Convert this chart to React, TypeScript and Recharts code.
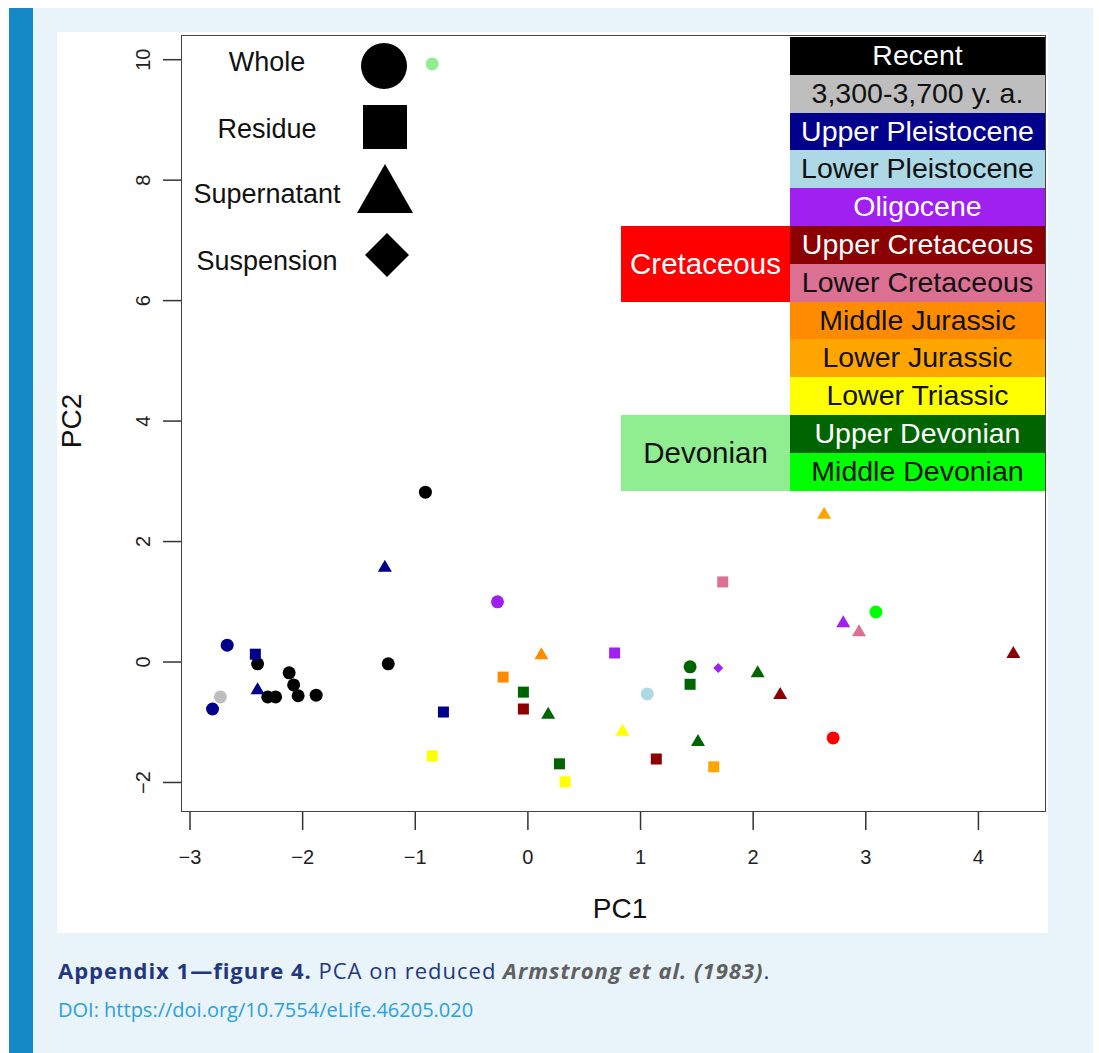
import React from "react";
import { ScatterChart, Scatter, XAxis, YAxis } from "recharts";

// Period legend (right column, top to bottom)
const PERIODS = [
  "Recent",
  "3,300-3,700 y. a.",
  "Upper Pleistocene",
  "Lower Pleistocene",
  "Oligocene",
  "Upper Cretaceous",
  "Lower Cretaceous",
  "Middle Jurassic",
  "Lower Jurassic",
  "Lower Triassic",
  "Upper Devonian",
  "Middle Devonian",
];
const PERIOD_COLORS = [
  "#000000", "#BEBEBE", "#00008B", "#ADD8E6", "#A020F0", "#8B0000",
  "#DB7093", "#FF8C00", "#FFA500", "#FFFF00", "#006400", "#00FF00",
];
const PERIOD_TEXT = [
  "#FFFFFF", "#111111", "#FFFFFF", "#111111", "#FFFFFF", "#FFFFFF",
  "#111111", "#111111", "#111111", "#111111", "#FFFFFF", "#111111",
];

// Grouping labels on the left of the period column
const GROUPS = ["Cretaceous", "Devonian"];
const GROUP_COLORS = ["#FF0000", "#90EE90"];
const GROUP_TEXT = ["#FFFFFF", "#111111"];
const GROUP_FIRST_ROW = [5, 10];

const FRACTIONS = ["Whole", "Residue", "Supernatant", "Suspension"];

// PCA scores
const PC1 = [
  -0.85, -0.91, -1.27, -2.67, -2.42, -2.40, -2.12, -2.08, -2.40, -2.73,
  -2.80, -2.31, -2.24, -2.04, -1.88, -1.24, -0.75, -0.85, -0.27, 1.73,
  0.12, 0.77, -0.22, 1.44, 1.69, -0.04, 1.44, 1.06, -0.04, 0.18,
  0.84, 1.51, 1.14, 0.28, 1.65, 0.33, 2.63, 3.09, 2.80, 2.94,
  4.31, 2.04, 2.24, 2.71,
];
const PC2 = [
  9.93, 2.82, 1.58, 0.28, 0.13, -0.03, -0.18, -0.38, -0.45, -0.58,
  -0.78, -0.58, -0.58, -0.56, -0.55, -0.03, -0.83, -1.56, 1.00, 1.33,
  0.13, 0.15, -0.25, -0.08, -0.10, -0.50, -0.37, -0.53, -0.78, -0.86,
  -1.14, -1.31, -1.61, -1.69, -1.74, -1.99, 2.46, 0.83, 0.66, 0.51,
  0.15, -0.17, -0.53, -1.26,
];
const POINT_PERIOD = [
  "Devonian", "Recent", "Upper Pleistocene", "Upper Pleistocene", "Upper Pleistocene",
  "Recent", "Recent", "Recent", "Upper Pleistocene", "3,300-3,700 y. a.",
  "Upper Pleistocene", "Recent", "Recent", "Recent", "Recent",
  "Recent", "Upper Pleistocene", "Lower Triassic", "Oligocene", "Lower Cretaceous",
  "Middle Jurassic", "Oligocene", "Middle Jurassic", "Upper Devonian", "Oligocene",
  "Upper Devonian", "Upper Devonian", "Lower Pleistocene", "Upper Cretaceous", "Upper Devonian",
  "Lower Triassic", "Upper Devonian", "Upper Cretaceous", "Upper Devonian", "Lower Jurassic",
  "Lower Triassic", "Lower Jurassic", "Middle Devonian", "Oligocene", "Lower Cretaceous",
  "Upper Cretaceous", "Upper Devonian", "Upper Cretaceous", "Cretaceous",
];
const POINT_FRACTION = [
  "Whole", "Whole", "Supernatant", "Whole", "Residue",
  "Whole", "Whole", "Whole", "Supernatant", "Whole",
  "Whole", "Whole", "Whole", "Whole", "Whole",
  "Whole", "Residue", "Residue", "Whole", "Residue",
  "Supernatant", "Residue", "Residue", "Whole", "Suspension",
  "Residue", "Residue", "Whole", "Residue", "Supernatant",
  "Supernatant", "Supernatant", "Residue", "Residue", "Residue",
  "Residue", "Supernatant", "Whole", "Supernatant", "Supernatant",
  "Supernatant", "Supernatant", "Supernatant", "Whole",
];

const X_TICKS = [-3, -2, -1, 0, 1, 2, 3, 4];
const Y_TICKS = [-2, 0, 2, 4, 6, 8, 10];

const colorOf = (period: string) => {
  const i = PERIODS.indexOf(period);
  if (i >= 0) return PERIOD_COLORS[i];
  return GROUP_COLORS[GROUPS.indexOf(period)];
};

const points = PC1.map((x, i) => ({
  x,
  y: PC2[i],
  period: POINT_PERIOD[i],
  fraction: POINT_FRACTION[i],
}));

const FONT = "'Liberation Sans', Arial, Helvetica, sans-serif";
const CAPTION_FONT = "'Open Sans', Lato, sans-serif";
const minus = (v: number) => String(v).replace("-", "\u2212");

function Marker(props: any) {
  const { cx, cy, payload } = props;
  if (cx == null || cy == null) return null;
  const fill = colorOf(payload.period);
  switch (payload.fraction) {
    case "Residue":
      return <rect x={cx - 5.5} y={cy - 5.5} width={11} height={11} fill={fill} />;
    case "Supernatant":
      return <polygon points={`${cx},${cy - 7} ${cx - 7},${cy + 5} ${cx + 7},${cy + 5}`} fill={fill} />;
    case "Suspension":
      return <polygon points={`${cx},${cy - 5} ${cx + 5},${cy} ${cx},${cy + 5} ${cx - 5},${cy}`} fill={fill} />;
    default:
      return <circle cx={cx} cy={cy} r={6.5} fill={fill} />;
  }
}

function XTick(props: any) {
  const { x, y, payload } = props;
  return (
    <text x={x} y={y + 32} textAnchor="middle" fontSize={20} fontFamily={FONT} fill="#222">
      {minus(payload.value)}
    </text>
  );
}

function YTick(props: any) {
  const { x, y, payload } = props;
  return (
    <text
      transform={`translate(${x - 11},${y}) rotate(-90)`}
      textAnchor="middle"
      fontSize={20}
      fontFamily={FONT}
      fill="#222"
    >
      {minus(payload.value)}
    </text>
  );
}

function ShapeKey() {
  return (
    <svg width={440} height={300} style={{ position: "absolute", left: 0, top: 0 }}>
      <g fontFamily={FONT} fontSize={27} fill="#111" textAnchor="middle">
        <text x={267} y={71}>{FRACTIONS[0]}</text>
        <text x={267} y={138}>{FRACTIONS[1]}</text>
        <text x={267} y={203}>{FRACTIONS[2]}</text>
        <text x={267} y={270}>{FRACTIONS[3]}</text>
      </g>
      <circle cx={384} cy={66} r={23} fill="#000" />
      <rect x={363} y={105} width={44} height={44} fill="#000" />
      <polygon points="385,164 357,213 413,213" fill="#000" />
      <polygon points="387,233 409,255 387,277 365,255" fill="#000" />
    </svg>
  );
}

function PeriodKey() {
  const top = 37;
  const rowH = 37.8;
  return (
    <>
      {PERIODS.map((p, i) => (
        <div
          key={p}
          style={{
            position: "absolute", left: 790, top: top + i * rowH, width: 255, height: rowH,
            background: PERIOD_COLORS[i], color: PERIOD_TEXT[i],
            fontFamily: FONT, fontSize: 28.5, lineHeight: `${rowH}px`, textAlign: "center",
            whiteSpace: "nowrap",
          }}
        >
          {p}
        </div>
      ))}
      {GROUPS.map((g, i) => (
        <div
          key={g}
          style={{
            position: "absolute", left: 621, top: top + GROUP_FIRST_ROW[i] * rowH, width: 169, height: 2 * rowH,
            background: GROUP_COLORS[i], color: GROUP_TEXT[i],
            fontFamily: FONT, fontSize: 29.5, lineHeight: `${2 * rowH}px`, textAlign: "center",
            whiteSpace: "nowrap",
          }}
        >
          {g}
        </div>
      ))}
    </>
  );
}

export default function App() {
  return (
    <div style={{ position: "absolute", left: 0, top: 0, width: 1099, height: 1053, background: "#fff", overflow: "hidden" }}>
      {/* page frame */}
      <div style={{ position: "absolute", left: 9, top: 8, width: 1084, height: 1045, background: "#E8F3FA" }} />
      <div style={{ position: "absolute", left: 9, top: 8, width: 24, height: 1045, background: "#1589C5" }} />
      <div style={{ position: "absolute", left: 57, top: 32, width: 991, height: 901, background: "#fff" }} />

      <div style={{ position: "absolute", left: 57, top: 32 }}>
        <ScatterChart width={991} height={901} margin={{ top: 3, right: 2, bottom: 81, left: 64 }}>
          <XAxis
            type="number"
            dataKey="x"
            domain={[-3.08, 4.6]}
            ticks={X_TICKS}
            allowDataOverflow
            axisLine={false}
            tickSize={18}
            tickLine={{ stroke: "#333", strokeWidth: 1.5 }}
            tick={<XTick />}
            height={40}
          />
          <YAxis
            type="number"
            dataKey="y"
            domain={[-2.49, 10.41]}
            ticks={Y_TICKS}
            allowDataOverflow
            axisLine={false}
            tickSize={18}
            tickLine={{ stroke: "#333", strokeWidth: 1.5 }}
            tick={<YTick />}
            width={60}
          />
          {FRACTIONS.map((f) => (
            <Scatter
              key={f}
              name={f}
              data={points.filter((p) => p.fraction === f)}
              shape={(p: any) => <Marker {...p} />}
              isAnimationActive={false}
            />
          ))}
        </ScatterChart>
      </div>

      {/* plot box */}
      <div style={{ position: "absolute", left: 181, top: 35, width: 865, height: 777, border: "1.5px solid #444", boxSizing: "border-box", pointerEvents: "none" }} />

      <ShapeKey />
      <PeriodKey />

      {/* axis titles */}
      <div style={{ position: "absolute", left: 520, top: 893, width: 200, textAlign: "center", fontFamily: FONT, fontSize: 28, color: "#111" }}>PC1</div>
      <div style={{ position: "absolute", left: 72 - 100, top: 422 - 17, width: 200, textAlign: "center", fontFamily: FONT, fontSize: 28, color: "#111", transform: "rotate(-90deg)" }}>PC2</div>

      {/* caption */}
      <div style={{ position: "absolute", left: 58, top: 955, fontFamily: CAPTION_FONT, fontSize: 22, letterSpacing: 1, color: "#24377E", whiteSpace: "nowrap" }}>
        <b>Appendix 1—figure 4.</b> PCA on reduced <b><i style={{ color: "#606060" }}>Armstrong et al. (1983)</i></b>.
      </div>
      <div style={{ position: "absolute", left: 58, top: 996, fontFamily: CAPTION_FONT, fontSize: 20, color: "#2CA0DA", whiteSpace: "nowrap" }}>
        DOI: https://doi.org/10.7554/eLife.46205.020
      </div>
    </div>
  );
}
